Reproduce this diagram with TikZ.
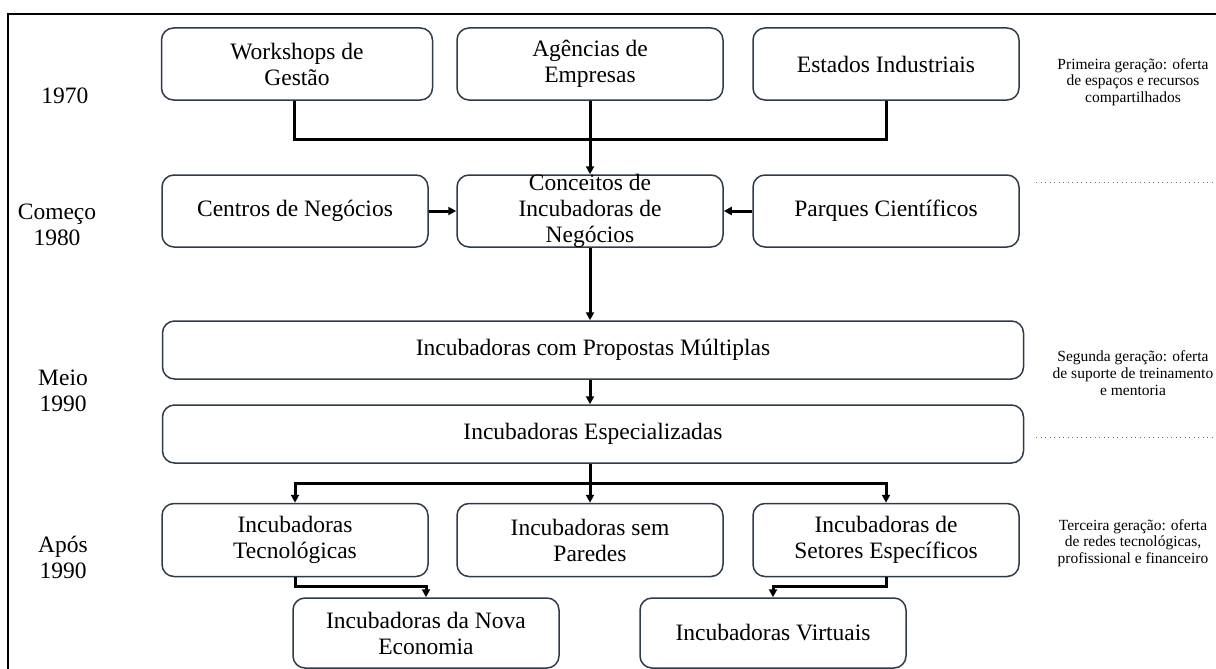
\documentclass[tikz,border=0pt]{standalone}
\usepackage{fontspec}
\setmainfont{Liberation Serif}
\usepackage{xcolor}
\usetikzlibrary{arrows.meta}
\definecolor{boxline}{HTML}{2E3A4A}
\newcommand{\bigfont}{\fontsize{23.5}{26}\selectfont}
\newcommand{\notefont}{\fontsize{15.5}{16.8}\selectfont}

\begin{document}
\begin{tikzpicture}[x=1pt, y=-1pt,
    >={Triangle[length=8pt, width=8pt]},
    every node/.style={font=\bigfont},
    box/.style={draw=boxline, line width=1.5pt, rounded corners=12pt, align=center,
      minimum width=266pt, minimum height=72pt, inner sep=2pt},
    widebox/.style={box, minimum width=861pt, minimum height=58pt},
    conn/.style={black, line width=3pt},
    note/.style={font=\notefont, align=center},
    era/.style={align=center},
    dots/.style={gray!90!black, line width=1pt, dash pattern=on 1pt off 3.5pt}]
    \useasboundingbox (0,0) rectangle (1216,669);
    \draw[black, line width=2pt] (8,669) -- (8,14) -- (1216,14);

    \node[era] (e1970) at (65,96) {1970};
    \node[era] (e1980) at (57,225) {Começo\\1980};
    \node[era] (e1990a) at (63,391) {Meio\\1990};
    \node[era] (e1990b) at (63,557) {Após\\1990};

    \node[box, minimum width=271pt] (workshops) at (297,64) {Workshops de\\Gestão};
    \node[box] (agencias) at (590,64) {Agências de\\Empresas};
    \node[box] (estados) at (886,64) {Estados Industriais};

    \node[box] (centros) at (295,211) {Centros de Negócios};
    \node[box] (conceitos) at (590,211) {};
    \node[align=center] at (conceitos) {Conceitos de\\Incubadoras de\\Negócios};
    \node[box] (parques) at (886,211) {Parques Científicos};

    \node[widebox] (propostas) at (593,350) {Incubadoras com Propostas Múltiplas};
    \node[widebox] (especializadas) at (593,434) {Incubadoras Especializadas};

    \node[box, minimum height=73pt] (tecnologicas) at (295,540) {Incubadoras\\Tecnológicas};
    \node[box, minimum height=73pt] (semparedes) at (590,540) {Incubadoras sem\\Paredes};
    \node[box, minimum height=73pt] (especificos) at (886,540) {Incubadoras de\\Setores Específicos};

    \node[box, minimum height=70pt] (nova) at (426,633) {Incubadoras da Nova\\Economia};
    \node[box, minimum height=70pt] (virtuais) at (773,633) {Incubadoras Virtuais};

    \node[note] (gen1) at (1133,82) {Primeira geração: oferta\\de espaços e recursos\\compartilhados};
    \node[note] (gen2) at (1133,373) {Segunda  geração: oferta\\de suporte de treinamento\\e mentoria};
    \node[note] (gen3) at (1133,543) {Terceira geração: oferta\\de redes tecnológicas,\\profissional e financeiro};

    \coordinate (dota) at (1036,182);
    \coordinate (dotb) at (1216,182);
    \coordinate (dotc) at (1036,437);
    \coordinate (dotd) at (1216,437);
    \draw[dots] (dota) -- (dotb);
    \draw[dots] (dotc) -- (dotd);

    \coordinate (join1) at (590,139);
    \draw[conn] (workshops.south -| 294,0) |- (join1) -| (estados.south);
    \draw[conn, ->] (agencias.south) -- (conceitos.north);
    \draw[conn, ->] (centros.east) -- (conceitos.west);
    \draw[conn, ->] (parques.west) -- (conceitos.east);
    \draw[conn, ->] (conceitos.south) -- (conceitos.south |- propostas.north);
    \draw[conn, ->] (propostas.south -| conceitos.south) -- (conceitos.south |- especializadas.north);

    \coordinate (join2) at (590,483);
    \draw[conn] (especializadas.south -| join2) -- (join2);
    \draw[conn, ->] (join2) -| (tecnologicas.north);
    \draw[conn, ->] (join2) -| (especificos.north);
    \draw[conn, ->] (join2) -- (semparedes.north);

    \draw[conn, ->] (tecnologicas.south) -- ++(0,9) -| (nova.north);
    \draw[conn, ->] (especificos.south) -- ++(0,9) -| (virtuais.north);
\end{tikzpicture}
\end{document}
